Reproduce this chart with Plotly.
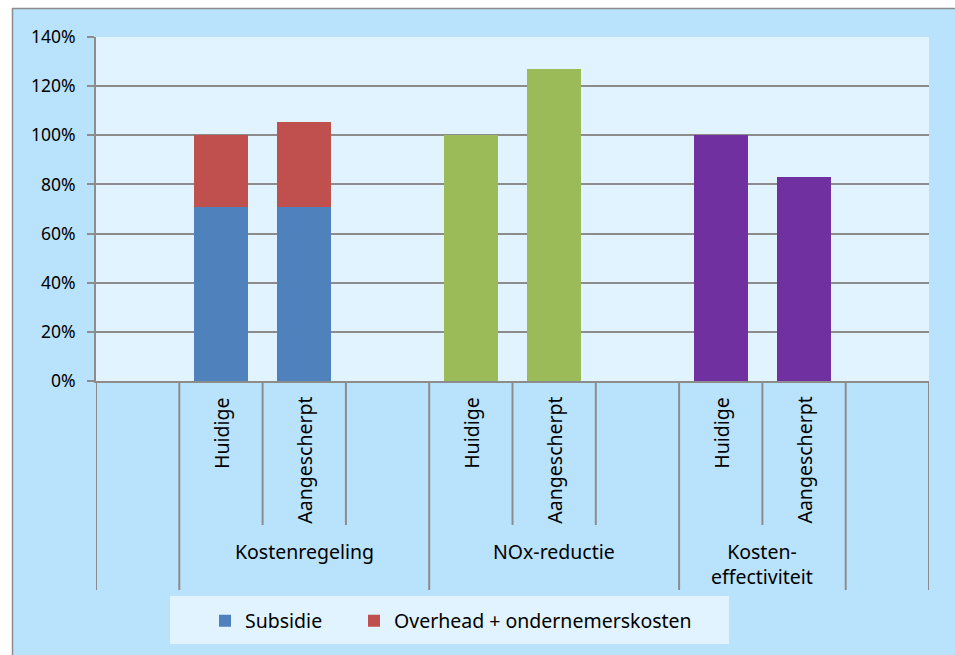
import plotly.graph_objects as go

# ---- data ----
slot_groups = ["", "Kostenregeling", "Kostenregeling", "Kostenregeling",
               "NOx-reductie", "NOx-reductie", "NOx-reductie",
               "Kosten-<br>effectiviteit", "Kosten-<br>effectiviteit", " "]
slot_labels = ["", "Huidige", "Aangescherpt", "",
               "Huidige", "Aangescherpt", "",
               "Huidige", "Aangescherpt", ""]

subsidie = [None, 70.7, 70.7, None, None, None, None, None, None, None]
overhead = [None, 29.3, 34.6, None, None, None, None, None, None, None]
nox_reductie = [None, None, None, None, 100, 126.8, None, None, None, None]
kosten_eff = [None, None, None, None, None, None, None, 100, 83.0, None]

y_ticks = [0, 20, 40, 60, 80, 100, 120, 140]
y_ticktext = ["0%", "20%", "40%", "60%", "80%", "100%", "120%", "140%"]

FONT = "Noto Sans"
GRAY = "#8c8c8c"
OUTER = "#b9e3fd"
INNER = "#e1f3fe"

W, H = 955, 655
L, R, T, B = 96, 929, 37, 381


def px_x(p):
    return (p - L) / (R - L)


def px_y(p):
    return (B - p) / (B - T)


xs = list(range(len(slot_labels)))

fig = go.Figure()
bar_w = 0.65
fig.add_trace(go.Bar(x=xs, y=subsidie, name="Subsidie", width=bar_w, legendwidth=104,
                     marker=dict(color="#4f81bd", line=dict(width=0))))
fig.add_trace(go.Bar(x=xs, y=overhead, name="Overhead + ondernemerskosten", width=bar_w,
                     marker=dict(color="#c0504d", line=dict(width=0))))
fig.add_trace(go.Bar(x=xs, y=nox_reductie, name="NOx-reductie", width=bar_w, showlegend=False,
                     marker=dict(color="#9bbb59", line=dict(width=0))))
fig.add_trace(go.Bar(x=xs, y=kosten_eff, name="Kosten-effectiviteit", width=bar_w, showlegend=False,
                     marker=dict(color="#7030a0", line=dict(width=0))))

shapes = []
# white strips + outer border
shapes.append(dict(type="rect", xref="paper", yref="paper", x0=px_x(-5), x1=px_x(W + 5),
                   y0=px_y(8), y1=px_y(-5), fillcolor="white", line=dict(width=0), layer="below"))
shapes.append(dict(type="rect", xref="paper", yref="paper", x0=px_x(-5), x1=px_x(12),
                   y0=px_y(H + 5), y1=px_y(-5), fillcolor="white", line=dict(width=0), layer="below"))
shapes.append(dict(type="line", xref="paper", yref="paper", x0=px_x(12), x1=px_x(W + 5),
                   y0=px_y(8.5), y1=px_y(8.5), line=dict(color=GRAY, width=1.5), layer="below"))
shapes.append(dict(type="line", xref="paper", yref="paper", x0=px_x(12.5), x1=px_x(12.5),
                   y0=px_y(8), y1=px_y(H + 5), line=dict(color=GRAY, width=1.5), layer="below"))
# legend background
shapes.append(dict(type="rect", xref="paper", yref="paper", x0=px_x(170), x1=px_x(729),
                   y0=px_y(644), y1=px_y(596), fillcolor=INNER, line=dict(width=0), layer="below"))

# category dividers
n = len(slot_labels)
bounds = [-0.5] + [k + 0.5 for k in range(n)]
for b in bounds:
    left = int(b - 0.5)
    right = int(b + 0.5)
    long_line = left < 0 or right >= n or slot_groups[left] != slot_groups[right]
    bottom = 590 if long_line else 525
    shapes.append(dict(type="line", xref="x", yref="paper", x0=b, x1=b,
                       y0=0, y1=px_y(bottom), line=dict(color=GRAY, width=2), layer="above"))

annotations = []
for k, lab in enumerate(slot_labels):
    if lab:
        annotations.append(dict(x=k, xref="x", y=px_y(395), yref="paper", text=lab,
                                textangle=-90, xanchor="center", yanchor="top", showarrow=False,
                                font=dict(family=FONT, size=19.5, color="#000")))
seen = []
for g in slot_groups:
    if g.strip() and g not in seen:
        seen.append(g)
for g in seen:
    idx = [k for k, s in enumerate(slot_groups) if s == g]
    cx = sum(idx) / len(idx)
    annotations.append(dict(x=cx, xref="x", y=px_y(536), yref="paper", text=g,
                            xanchor="center", yanchor="top", showarrow=False, align="center",
                            font=dict(family=FONT, size=19.5, color="#000")))

fig.update_layout(
    width=W, height=H,
    margin=dict(l=L, r=W - R, t=T, b=H - B, autoexpand=False),
    paper_bgcolor=OUTER, plot_bgcolor=INNER,
    barmode="stack",
    font=dict(family=FONT, size=17, color="#000"),
    xaxis=dict(range=[-0.5, n - 0.5], showticklabels=False, ticks="", showgrid=False,
               showline=True, linecolor=GRAY, linewidth=2, zeroline=False, fixedrange=True),
    yaxis=dict(range=[0, 140], tickmode="array", tickvals=y_ticks, ticktext=y_ticktext,
               showgrid=True, gridcolor=GRAY, gridwidth=2, showline=True, linecolor=GRAY,
               linewidth=2, ticks="outside", ticklen=7, tickwidth=2, tickcolor=GRAY,
               zeroline=False, ticklabelstandoff=8,
               tickfont=dict(family=FONT, size=17.5, color="#000")),
    showlegend=True,
    legend=dict(orientation="h", x=px_x(205), xanchor="left", y=px_y(621), yanchor="middle",
                bgcolor="rgba(0,0,0,0)", traceorder="normal",
                font=dict(family=FONT, size=19.5, color="#000")),
    shapes=shapes, annotations=annotations,
)

fig.write_html("out.html")
